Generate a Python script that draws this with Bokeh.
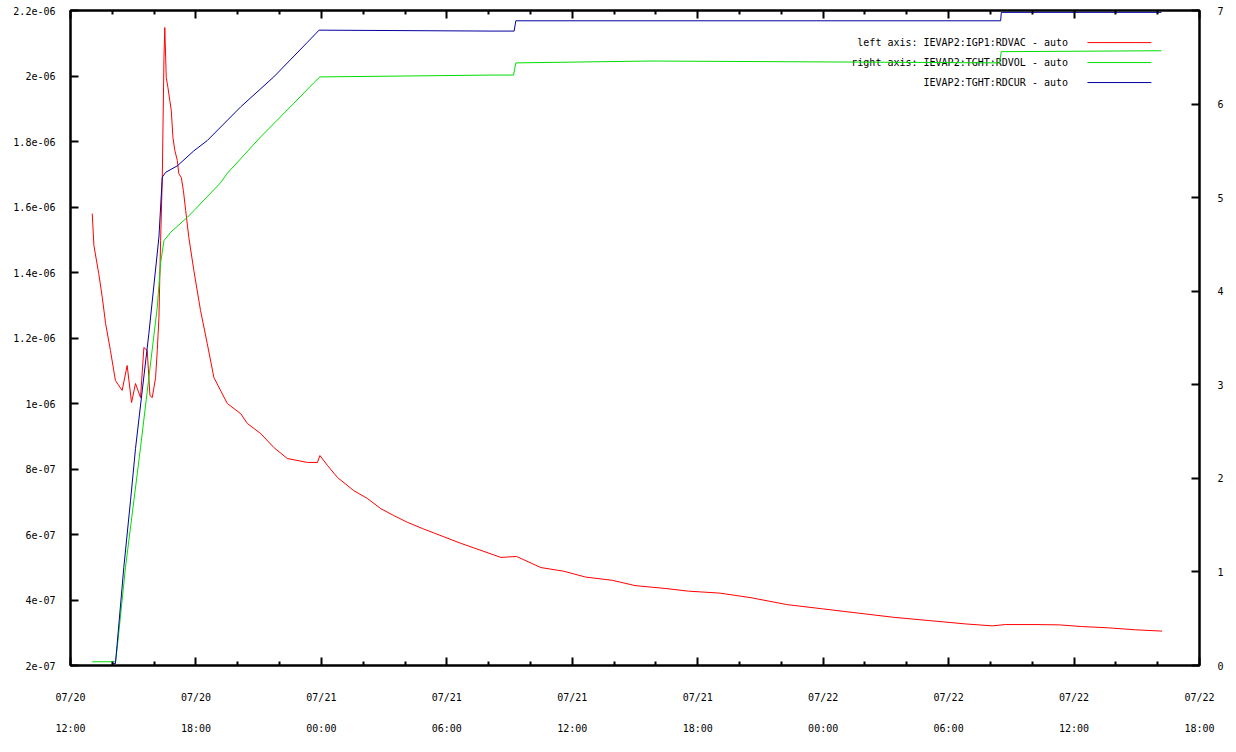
from bokeh.plotting import figure
from bokeh.models import Range1d, LinearAxis, FixedTicker, CustomJSTickFormatter
from bokeh.core.properties import value
from bokeh.embed import file_html
from bokeh.resources import INLINE

# time axis: hours since 07/20 00:00
vac_hours = [13.04, 13.12, 13.35, 13.52, 13.68, 13.91, 14.15, 14.47, 14.71, 14.92,
             15.11, 15.35, 15.51, 15.67, 15.80, 15.91, 16.07, 16.15, 16.23, 16.31,
             16.39, 16.47, 16.51, 16.58, 16.66, 16.75, 16.82, 16.90, 16.99, 17.11,
             17.18, 17.30, 17.40, 17.51, 17.66, 17.90, 18.22, 18.54, 18.86, 19.50,
             20.14, 20.46, 21.10, 21.72, 22.37, 23.33, 23.81, 23.93, 24.29, 24.77,
             25.55, 26.20, 26.84, 27.46, 28.12, 28.84, 30.67, 32.59, 33.33, 34.50,
             35.58, 36.64, 37.93, 39.00, 40.48, 41.56, 43.06, 44.55, 46.26, 47.97,
             49.68, 51.39, 53.10, 54.80, 56.09, 56.71, 58.23, 59.30, 60.35, 61.64,
             62.94, 64.21]
vac_values = [1.580e-6, 1.482e-6, 1.397e-6, 1.324e-6, 1.244e-6, 1.162e-6, 1.070e-6, 1.040e-6, 1.116e-6, 1.003e-6,
              1.061e-6, 1.018e-6, 1.171e-6, 1.162e-6, 1.024e-6, 1.018e-6, 1.079e-6, 1.162e-6, 1.263e-6, 1.498e-6,
              1.690e-6, 2.056e-6, 2.148e-6, 1.995e-6, 1.965e-6, 1.925e-6, 1.895e-6, 1.812e-6, 1.773e-6, 1.742e-6,
              1.702e-6, 1.690e-6, 1.650e-6, 1.589e-6, 1.507e-6, 1.406e-6, 1.284e-6, 1.183e-6, 1.079e-6, 1.000e-6,
              0.969e-6, 0.939e-6, 0.908e-6, 0.866e-6, 0.832e-6, 0.820e-6, 0.820e-6, 0.841e-6, 0.811e-6, 0.774e-6,
              0.734e-6, 0.710e-6, 0.679e-6, 0.658e-6, 0.637e-6, 0.618e-6, 0.573e-6, 0.530e-6, 0.533e-6, 0.499e-6,
              0.488e-6, 0.470e-6, 0.460e-6, 0.444e-6, 0.435e-6, 0.427e-6, 0.421e-6, 0.407e-6, 0.386e-6, 0.373e-6,
              0.360e-6, 0.347e-6, 0.337e-6, 0.327e-6, 0.321e-6, 0.325e-6, 0.325e-6, 0.324e-6, 0.319e-6, 0.315e-6,
              0.309e-6, 0.305e-6]

vol_hours = [13.04, 14.15, 14.24, 14.63, 15.03, 15.35, 16.15, 16.31, 16.47, 16.79,
             17.59, 17.90, 19.18, 19.50, 21.10, 22.69, 23.65, 23.93, 32.11, 33.19,
             33.30, 39.77, 48.38, 56.43, 56.52, 64.18]
vol_values = [0.04, 0.04, 0.20, 1.05, 1.76, 2.33, 3.83, 4.30, 4.54, 4.63,
              4.79, 4.86, 5.16, 5.26, 5.65, 6.01, 6.23, 6.29, 6.31, 6.31,
              6.44, 6.46, 6.45, 6.44, 6.56, 6.57]

cur_hours = [14.03, 14.15, 14.55, 14.87, 15.11, 15.75, 16.23, 16.39, 16.55, 17.11,
             17.90, 18.54, 20.14, 21.72, 23.33, 23.89, 32.11, 33.22, 33.30, 56.49,
             56.52, 64.18]
cur_values = [0.02, 0.02, 1.05, 1.76, 2.32, 3.55, 4.58, 5.22, 5.27, 5.34,
              5.50, 5.61, 5.97, 6.29, 6.66, 6.79, 6.78, 6.78, 6.89, 6.89,
              6.98, 6.98]

x_ticks = [12, 18, 24, 30, 36, 42, 48, 54, 60, 66]
x_minor = [14, 16, 20, 22, 26, 28, 32, 34, 38, 40, 44, 46, 50, 52, 56, 58, 62, 64]
x_date_labels = ["07/20", "07/20", "07/21", "07/21", "07/21", "07/21", "07/22", "07/22", "07/22", "07/22"]
x_time_labels = ["12:00", "18:00", "00:00", "06:00", "12:00", "18:00", "00:00", "06:00", "12:00", "18:00"]
left_ticks = [2e-7, 4e-7, 6e-7, 8e-7, 1e-6, 1.2e-6, 1.4e-6, 1.6e-6, 1.8e-6, 2e-6, 2.2e-6]
left_labels = ["2e-07", "4e-07", "6e-07", "8e-07", "1e-06", "1.2e-06", "1.4e-06", "1.6e-06", "1.8e-06", "2e-06", "2.2e-06"]
right_ticks = [0, 1, 2, 3, 4, 5, 6, 7]
right_labels = ["0", "1", "2", "3", "4", "5", "6", "7"]

legend_labels = ["left axis: IEVAP2:IGP1:RDVAC  - auto",
                 "right axis: IEVAP2:TGHT:RDVOL  - auto",
                 "IEVAP2:TGHT:RDCUR  - auto"]
RED, GREEN, BLUE = "#ff0000", "#00dd00", "#0000a0"
legend_colors = [RED, GREEN, BLUE]
# legend placement (in plot coordinates)
legend_text_x = 60.0
legend_line_x0, legend_line_x1 = 60.64, 63.70
legend_rows_y = [2.102e-6, 2.041e-6, 1.980e-6]

FONT = "DejaVu Sans Mono"


def fmt(tick_values, tick_labels):
    return CustomJSTickFormatter(args=dict(tv=tick_values, tl=tick_labels), code="""
let best = -1, bd = Infinity;
for (let i = 0; i < tv.length; i++) {
  const d = Math.abs(tv[i] - tick);
  if (d < bd) { bd = d; best = i; }
}
return (best >= 0 && bd <= Math.abs(tick) * 1e-6 + 1e-15) ? tl[best] : "";
""")


def style(ax, ticks, minor, labels, standoff, show_line=True):
    ax.ticker = FixedTicker(ticks=ticks, minor_ticks=minor)
    ax.formatter = fmt(ticks, labels)
    ax.major_tick_in = 8
    ax.major_tick_out = 0
    ax.minor_tick_in = 4
    ax.minor_tick_out = 0
    ax.major_tick_line_width = 2
    ax.minor_tick_line_width = 2
    ax.major_tick_line_color = "black" if show_line else None
    ax.minor_tick_line_color = "black" if show_line else None
    ax.axis_line_width = 2
    ax.axis_line_color = "black" if show_line else None
    ax.major_label_standoff = standoff
    ax.major_label_text_font = FONT
    ax.major_label_text_font_size = "10px"
    ax.major_label_text_color = "black"


p = figure(width=1236, height=752, output_backend="svg", toolbar_location=None,
           x_range=Range1d(12, 66), y_range=Range1d(2e-7, 2.2e-6),
           min_border_left=70, min_border_right=37, min_border_top=10, min_border_bottom=87,
           background_fill_color="white", border_fill_color="white")
p.extra_y_ranges = {"right": Range1d(0, 7)}
p.xgrid.visible = False
p.ygrid.visible = False
p.outline_line_color = "black"
p.outline_line_width = 2

style(p.xaxis[0], x_ticks, x_minor, x_date_labels, 26)
style(p.yaxis[0], left_ticks, [], left_labels, 15)

time_axis = LinearAxis()
style(time_axis, x_ticks, [], x_time_labels, 17, show_line=False)
p.add_layout(time_axis, "below")

top_axis = LinearAxis()
style(top_axis, x_ticks, x_minor, ["" for _ in x_ticks], 0)
top_axis.major_label_text_font_size = "0px"
p.add_layout(top_axis, "above")

right_axis = LinearAxis(y_range_name="right")
style(right_axis, right_ticks, [], right_labels, 18)
p.add_layout(right_axis, "right")

# key (drawn first so the data lines pass over it)
p.text(x=[legend_text_x] * 3, y=legend_rows_y, text=legend_labels,
       text_align="right", text_baseline="middle",
       text_font=value(FONT), text_font_size="10px", text_color="black")
p.segment(x0=[legend_line_x0] * 3, y0=legend_rows_y, x1=[legend_line_x1] * 3, y1=legend_rows_y,
          line_color=legend_colors, line_width=1)

p.line(vac_hours, vac_values, line_color=RED, line_width=1)
p.line(vol_hours, vol_values, line_color=GREEN, line_width=1, y_range_name="right")
p.line(cur_hours, cur_values, line_color=BLUE, line_width=1, y_range_name="right")

open("out.html", "w").write(file_html(p, INLINE))
